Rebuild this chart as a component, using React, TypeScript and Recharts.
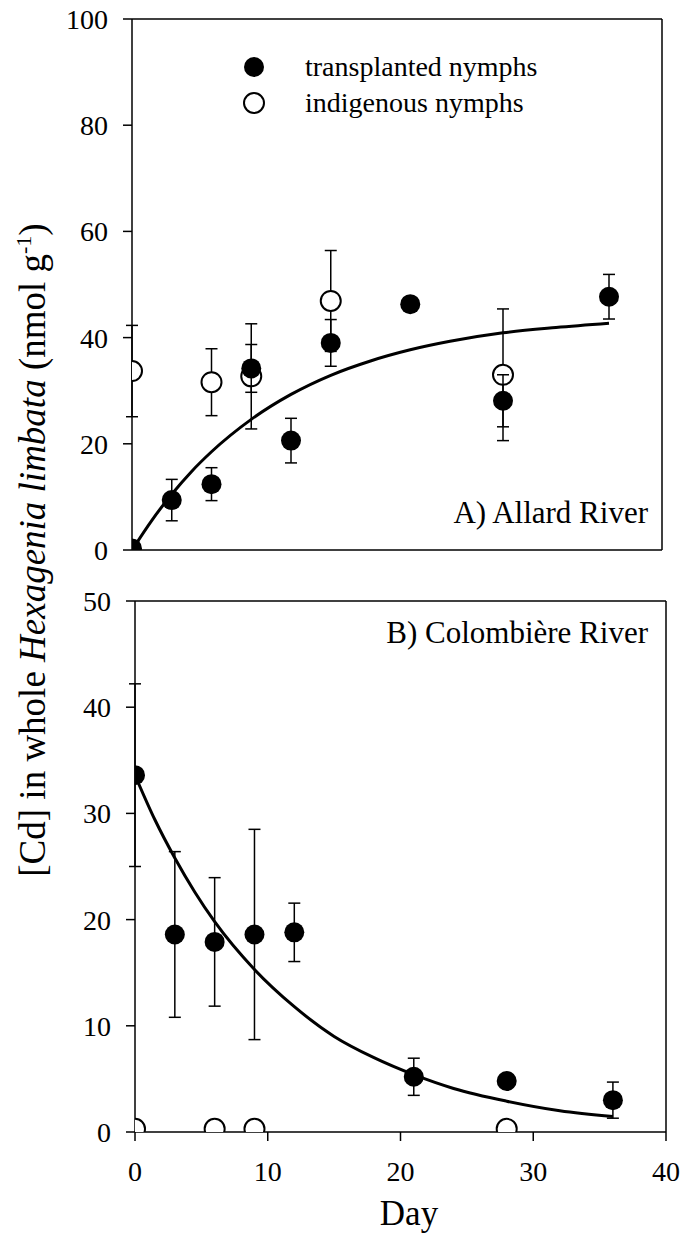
import React from "react";
import {
  ComposedChart,
  Scatter,
  Line,
  XAxis,
  YAxis,
  ErrorBar,
  ReferenceLine,
} from "recharts";

const FONT = "Liberation Serif, Tinos, Times New Roman, DejaVu Serif, serif";

// A) Allard River
const daysTransA = [0, 3, 6, 9, 12, 15, 21, 28, 36];
const cdTransA = [0.3, 9.4, 12.4, 34.2, 20.6, 39.0, 46.3, 28.1, 47.7];
const seTransA = [0, 3.9, 3.1, 4.5, 4.2, 4.4, 0, 4.9, 4.2];
const daysIndA = [0, 6, 9, 15, 28];
const cdIndA = [33.7, 31.6, 32.7, 46.9, 33.0];
const seIndA = [8.6, 6.3, 9.9, 9.5, 12.4];
const fitDaysA = [0, 1.5, 3, 4.5, 6, 9, 12, 15, 18, 21, 24, 28, 32, 36];
const fitA = [0, 5.6, 10.5, 14.8, 18.5, 24.6, 29.3, 32.9, 35.6, 37.7, 39.3, 40.9, 41.9, 42.7];

// B) Colombière River
const daysTransB = [0, 3, 6, 9, 12, 21, 28, 36];
const cdTransB = [33.6, 18.6, 17.9, 18.6, 18.8, 5.2, 4.8, 3.0];
const seTransB = [8.6, 7.8, 6.05, 9.9, 2.75, 1.75, 0, 1.7];
const daysIndB = [0, 6, 9, 28];
const cdIndB = [0.3, 0.3, 0.3, 0.3];
const seIndB = [0, 0, 0, 0];
const fitDaysB = [0, 1.5, 3, 4.5, 6, 9, 12, 15, 18, 21, 24, 28, 32, 36];
const fitB = [33.6, 29.4, 25.8, 22.6, 19.8, 15.3, 11.8, 9.0, 7.0, 5.4, 4.1, 2.9, 2.0, 1.45];

const xTicks = [0, 10, 20, 30, 40];
const yTicksA = [0, 20, 40, 60, 80, 100];
const yTicksB = [0, 10, 20, 30, 40, 50];

const toPoints = (days: number[], vals: number[], errs?: number[]) =>
  days.map((d, i) => ({ day: d, value: vals[i], err: errs ? errs[i] : 0 }));

const FilledDot = (p: any) => <circle cx={p.cx} cy={p.cy} r={10} fill="#000" />;
const OpenDot = (p: any) => (
  <circle cx={p.cx} cy={p.cy} r={10} fill="#fff" stroke="#000" strokeWidth={2} />
);

const axisLine = { stroke: "#000", strokeWidth: 1.5 };
const tickStyle = { fill: "#000", fontSize: 28, fontFamily: FONT };

interface PanelProps {
  trans: { day: number; value: number; err: number }[];
  ind: { day: number; value: number; err: number }[];
  fit: { day: number; value: number; err: number }[];
  yMax: number;
  yTicks: number[];
  showXLabels: boolean;
  height: number;
  xAxisHeight: number;
  margin: { top: number; right: number; bottom: number; left: number };
}

// extra props (zIndex) are typed loosely since older recharts builds ignore them
const TopScatter: any = Scatter;
const TopErrorBar: any = ErrorBar;

function Panel({ trans, ind, fit, yMax, yTicks, showXLabels, height, xAxisHeight, margin }: PanelProps) {
  return (
    <ComposedChart width={681} height={height} margin={margin}>
      <XAxis
        type="number"
        dataKey="day"
        domain={[0, 40]}
        ticks={xTicks}
        allowDataOverflow
        height={xAxisHeight}
        tickSize={9}
        tickMargin={20}
        tick={showXLabels ? tickStyle : false}
        axisLine={axisLine}
        tickLine={axisLine}
      />
      <YAxis
        type="number"
        dataKey="value"
        domain={[0, yMax]}
        ticks={yTicks}
        allowDataOverflow
        width={60}
        tickSize={9}
        tickMargin={15}
        tick={tickStyle}
        axisLine={axisLine}
        tickLine={axisLine}
      />
      <ReferenceLine y={yMax} stroke="#000" strokeWidth={1.5} />
      <ReferenceLine x={40} stroke="#000" strokeWidth={1.5} />
      <Line
        data={fit}
        dataKey="value"
        type="monotone"
        stroke="#000"
        strokeWidth={3}
        dot={false}
        legendType="none"
        isAnimationActive={false}
      />
      <Scatter name="indigenous nymphs" data={ind} shape={OpenDot} isAnimationActive={false}>
        <ErrorBar dataKey="err" direction="y" width={6} stroke="#000" strokeWidth={1.5} />
      </Scatter>
      {/* filled markers sit on top of the open ones */}
      <TopScatter
        name="transplanted nymphs"
        data={trans}
        shape={FilledDot}
        zIndex={700}
        isAnimationActive={false}
      >
        <TopErrorBar
          dataKey="err"
          direction="y"
          width={6}
          stroke="#000"
          strokeWidth={1.5}
          zIndex={650}
        />
      </TopScatter>
    </ComposedChart>
  );
}

export default function App() {
  return (
    <div
      style={{
        position: "absolute",
        left: 0,
        top: 0,
        width: 681,
        height: 1236,
        background: "#fff",
        fontFamily: FONT,
      }}
    >
      <div style={{ position: "absolute", left: 0, top: 0 }}>
        <Panel
          trans={toPoints(daysTransA, cdTransA, seTransA)}
          ind={toPoints(daysIndA, cdIndA, seIndA)}
          fit={toPoints(fitDaysA, fitA)}
          yMax={100}
          yTicks={yTicksA}
          showXLabels={false}
          height={590}
          xAxisHeight={30}
          margin={{ top: 19, right: 19, bottom: 10, left: 72 }}
        />
      </div>
      <div style={{ position: "absolute", left: 0, top: 580 }}>
        <Panel
          trans={toPoints(daysTransB, cdTransB, seTransB)}
          ind={toPoints(daysIndB, cdIndB, seIndB)}
          fit={toPoints(fitDaysB, fitB)}
          yMax={50}
          yTicks={yTicksB}
          showXLabels={true}
          height={656}
          xAxisHeight={60}
          margin={{ top: 21, right: 15, bottom: 44, left: 75 }}
        />
      </div>
      <svg
        width={681}
        height={1236}
        style={{ position: "absolute", left: 0, top: 0, pointerEvents: "none", fontFamily: FONT }}
      >
        {/* legend */}
        <circle cx={254} cy={67} r={10} fill="#000" />
        <text x={305} y={76} fontSize={28} fill="#000">transplanted nymphs</text>
        <circle cx={254} cy={103} r={10} fill="#fff" stroke="#000" strokeWidth={2} />
        <text x={305} y={112} fontSize={28} fill="#000">indigenous nymphs</text>

        <text x={648} y={523} fontSize={31} textAnchor="end" fill="#000">A) Allard River</text>
        <text x={648} y={643} fontSize={31} textAnchor="end" fill="#000">B) Colombière River</text>

        <text
          x={45}
          y={550}
          transform="rotate(-90 45 550)"
          fontSize={37}
          textAnchor="middle"
          fill="#000"
        >
          {"[Cd] in whole "}
          <tspan fontStyle="italic">Hexagenia limbata</tspan>
          {" (nmol g"}
          <tspan dy={-14} fontSize={22}>-1</tspan>
          <tspan dy={14}>)</tspan>
        </text>

        <text x={409} y={1225} fontSize={35} textAnchor="middle" fill="#000">Day</text>
      </svg>
    </div>
  );
}
